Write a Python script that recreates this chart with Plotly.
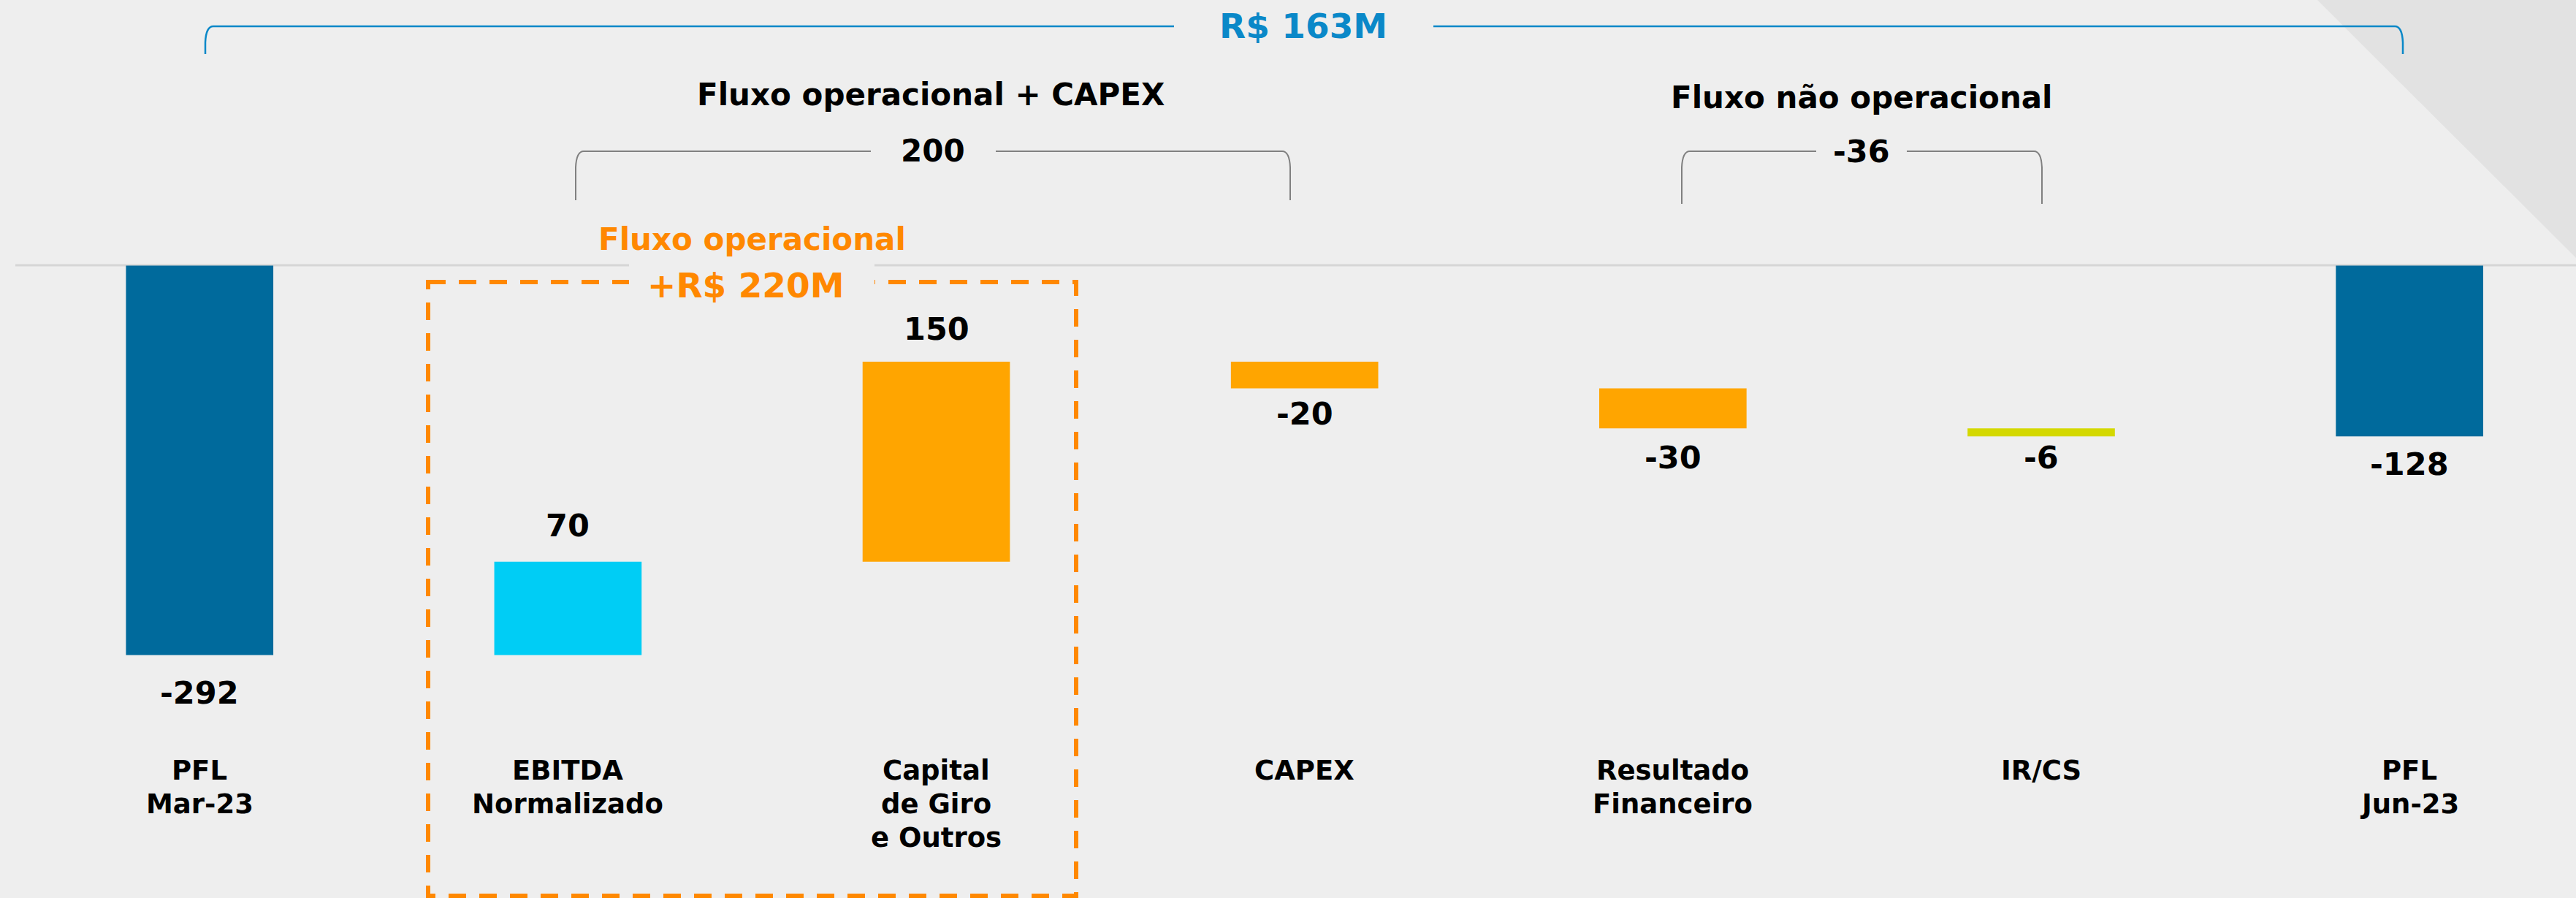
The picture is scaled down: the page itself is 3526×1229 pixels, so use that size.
import plotly.graph_objects as go

W, H = 3526, 1229

# data
categories = ["PFL<br>Mar-23", "EBITDA<br>Normalizado", "Capital<br>de Giro<br>e Outros",
              "CAPEX", "Resultado<br>Financeiro", "IR/CS", "PFL<br>Jun-23"]
pfl_start = -292
changes = [70, 150, -20, -30, -6]
pfl_end = -128
group_totals = ["200", "-36"]
group_titles = ["Fluxo operacional + CAPEX", "Fluxo não operacional"]
total_label = "R$ 163M"
op_flow_title = "Fluxo operacional"
op_flow_label = "+R$ 220M"

# bars as floating segments (waterfall by hand so each bar gets its own colour)
deltas = [pfl_start] + changes + [pfl_end]
bases = [0]
run = pfl_start
for c in changes:
    bases.append(run)
    run += c
bases.append(0)

bar_colors = ["#006a9c", "#00cdf5", "#ffa500", "#ffa500", "#ffa500", "#d4d800", "#006a9c"]
label_drop = [52, -50, -45, 35, 40, 29, 38]  # px below (+) / above (-) the bar end

BG = "#eeeeee"
BLUE = "#0a88c8"
ORANGE = "#ff8800"
FONT = "DejaVu Sans"

# pixel helpers for decorations (figure has no margins)
def px(x):
    return x / W

def py(y):
    return 1 - y / H

zero_px = 363.5
unit_px = 1.8253
y_range = [-(H - zero_px) / unit_px, zero_px / unit_px]
x_range = [-0.542, 6.452]

fig = go.Figure()
fig.add_trace(
    go.Bar(
        x=list(range(len(categories))),
        y=deltas,
        base=bases,
        width=0.4,
        marker=dict(color=bar_colors, line=dict(width=0)),
        hoverinfo="skip",
    )
)


def bracket(x0, x1, ytop, ybot, gap0, gap1):
    # flat top with curved ends, broken in the middle for a label
    p = (
        f"M {px(x0)} {py(ybot)} L {px(x0)} {py(ytop + 22)} "
        f"Q {px(x0 + 1)} {py(ytop)} {px(x0 + 11)} {py(ytop)} L {px(gap0)} {py(ytop)} "
        f"M {px(gap1)} {py(ytop)} L {px(x1 - 11)} {py(ytop)} "
        f"Q {px(x1 - 1)} {py(ytop)} {px(x1)} {py(ytop + 22)} L {px(x1)} {py(ybot)}"
    )
    return p


shapes = [
    # grey corner triangle top right
    dict(type="path", xref="paper", yref="paper", layer="below",
         path=f"M {px(3172)} {py(0)} L {px(W)} {py(0)} L {px(W)} {py(353)} Z",
         fillcolor="#e2e2e2", line=dict(width=0)),
    # baseline
    dict(type="line", xref="paper", yref="paper", layer="below",
         x0=px(21), x1=1, y0=py(363), y1=py(363),
         line=dict(color="#d6d6d6", width=3)),
    # dashed box around the operational flow
    dict(type="rect", xref="paper", yref="paper", layer="below",
         x0=px(586), x1=px(1473), y0=py(386), y1=py(1226),
         line=dict(color=ORANGE, width=6, dash="24px,18px")),
    # mask behind "+R$ 220M"
    dict(type="rect", xref="paper", yref="paper", layer="below",
         x0=px(861), x1=px(1197), y0=py(352), y1=py(420),
         fillcolor=BG, line=dict(width=0)),
    # brackets
    dict(type="path", xref="paper", yref="paper", layer="below",
         path=bracket(281, 3289, 36, 74, 1607, 1962),
         line=dict(color=BLUE, width=2.5)),
    dict(type="path", xref="paper", yref="paper", layer="below",
         path=bracket(788, 1766, 207, 274, 1192, 1363),
         line=dict(color="#808080", width=2)),
    dict(type="path", xref="paper", yref="paper", layer="below",
         path=bracket(2302, 2795, 207, 279, 2486, 2610),
         line=dict(color="#808080", width=2)),
]

annotations = []


def add_text(text, x, y, size, color="#000000", xref="paper"):
    annotations.append(
        dict(text=f"<b>{text}</b>", x=x, y=y, xref=xref, yref="paper",
             xanchor="center", yanchor="middle", showarrow=False,
             font=dict(family=FONT, size=size, color=color))
    )


# value labels on the bars
for i, (b, d) in enumerate(zip(bases, deltas)):
    annotations.append(
        dict(text=f"<b>{d}</b>", x=i, y=b + d, xref="x", yref="y",
             xanchor="center", yanchor="middle", yshift=-label_drop[i],
             showarrow=False, font=dict(family=FONT, size=43, color="#000000"))
    )

# category labels, one annotation per line
for i, cat in enumerate(categories):
    for k, line in enumerate(cat.split("<br>")):
        add_text(line, i, py(1054 + 46 * k), 37, xref="x")

# headers
add_text(total_label, px(1784), py(36), 47, BLUE)
add_text(group_titles[0], px(1274), py(129), 42)
add_text(group_titles[1], px(2548), py(134), 42)
add_text(group_totals[0], px(1277), py(207), 42)
add_text(group_totals[1], px(2548), py(207), 43)
add_text(op_flow_title, px(1029), py(327), 42, ORANGE)
add_text(op_flow_label, px(1021), py(391), 47, ORANGE)

fig.update_layout(
    width=W,
    height=H,
    autosize=False,
    margin=dict(l=0, r=0, t=0, b=0, pad=0),
    paper_bgcolor=BG,
    plot_bgcolor="rgba(0,0,0,0)",
    showlegend=False,
    hovermode=False,
    xaxis=dict(range=x_range, visible=False, fixedrange=True),
    yaxis=dict(range=y_range, visible=False, fixedrange=True),
    shapes=shapes,
    annotations=annotations,
)

# the page's default body margin would shift the picture, drop it
fig.write_html(
    "out.html",
    config={"displayModeBar": False},
    post_script="document.body.style.margin='0px';",
)
